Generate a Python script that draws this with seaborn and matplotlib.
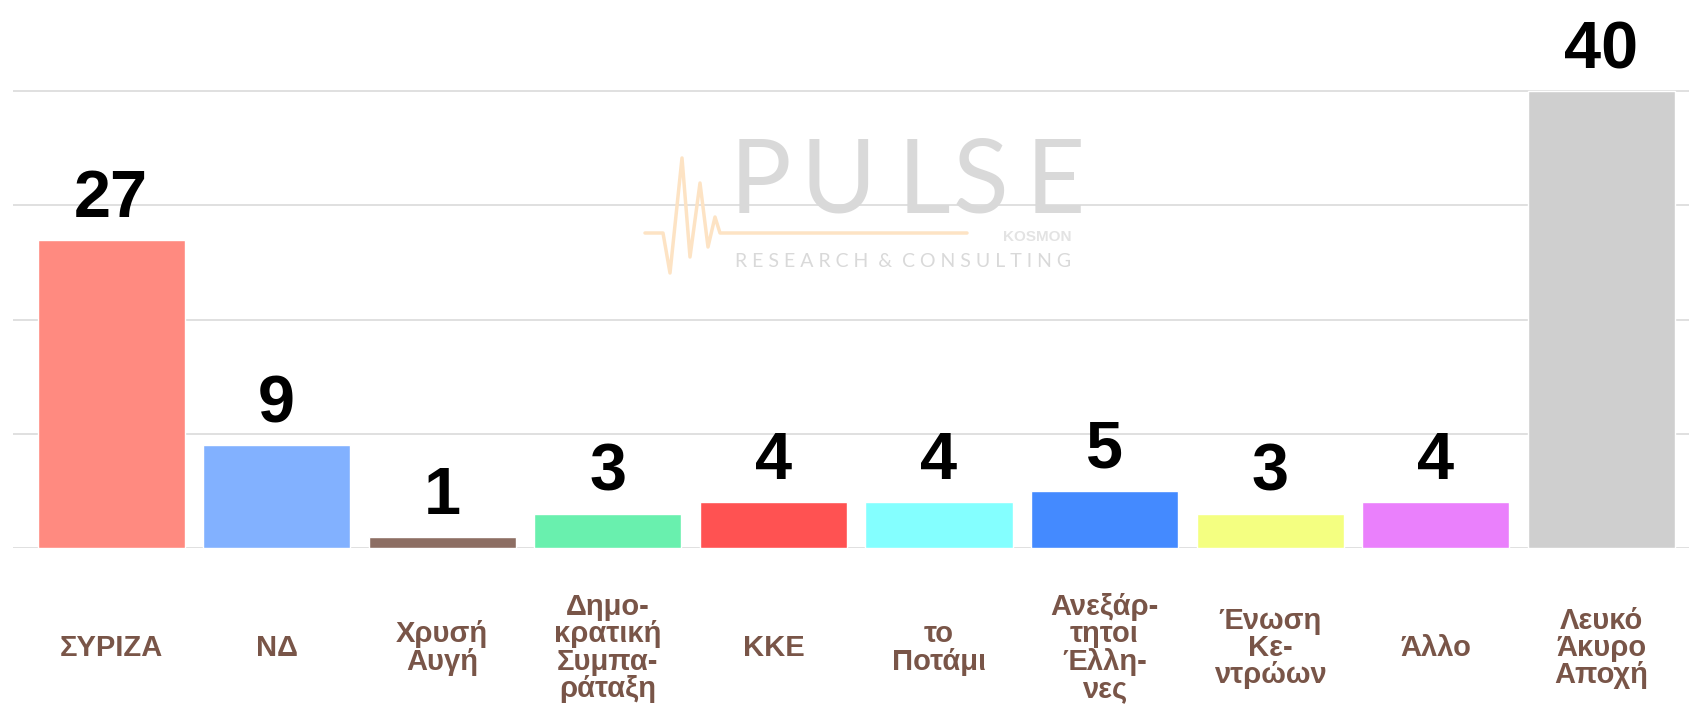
import numpy as np
import pandas as pd
import matplotlib
matplotlib.use('Agg')
import matplotlib.pyplot as plt
from matplotlib.lines import Line2D
import seaborn as sns

# ── Data ──────────────────────────────────────────────────────────────────────
parties = ['ΣΥΡΙΖΑ', 'ΝΔ', 'Χρυσή\nΑυγή', 'Δημο-\nκρατική\nΣυμπα-\nράταξη', 'ΚΚΕ',
           'το\nΠοτάμι', 'Ανεξάρ-\nτητοι\nΈλλη-\nνες', 'Ένωση\nΚε-\nντρώων', 'Άλλο',
           'Λευκό\nΆκυρο\nΑποχή']
seats = [27, 9, 1, 3, 4, 4, 5, 3, 4, 40]
colors = ['#FF8A80', '#82B1FF', '#8D6E63', '#69F0AE', '#FF5252',
          '#84FFFF', '#448AFF', '#F4FF81', '#EA80FC', '#CFCFCF']

df = pd.DataFrame({'party': parties, 'value': seats})

# ── Style ─────────────────────────────────────────────────────────────────────
sns.set_theme(style='white')
plt.rcParams['font.family'] = ['Liberation Sans', 'DejaVu Sans']

W, H = 1690, 717
fig = plt.figure(figsize=(W / 100, H / 100), dpi=100)
fig.patch.set_facecolor('white')
ax = fig.add_axes([13 / W, 1 - 548 / H, 1 - 13 / W, 502.7 / H])

sns.barplot(data=df, x='party', y='value', hue='party', palette=dict(zip(parties, colors)),
            legend=False, width=0.888, saturation=1, ax=ax, zorder=3)

ax.set_ylim(0, 44)
ax.set_xlim(-0.592, 9.535)
ax.set_yticks([0, 10, 20, 30, 40])
ax.yaxis.grid(True, color='#e0e0e0', linewidth=1.4)
ax.xaxis.grid(False)
ax.set_axisbelow(True)
ax.tick_params(axis='y', left=False, labelleft=False)
ax.tick_params(axis='x', bottom=False, pad=66)
for s in ax.spines.values():
    s.set_visible(False)
ax.set_xlabel('')
ax.set_ylabel('')

ax.set_xticks(range(len(parties)))
ax.set_xticklabels(parties, color='#795548', fontweight='bold', fontsize=21,
                   va='center', ha='center', multialignment='center', linespacing=0.97)

# value labels above bars
for i, v in enumerate(seats):
    ax.annotate(str(v), (i, v), xytext=(0, 16.5), textcoords='offset points',
                ha='center', va='baseline', fontsize=48, fontweight='bold',
                color='black', annotation_clip=False)

# ── Watermark ─────────────────────────────────────────────────────────────────
wm = '#d9d9d9'
for letter, cx in zip('PULSE', [760, 838, 924, 981, 1055]):
    fig.text(cx / W, 1 - 213 / H, letter, fontsize=74, color=wm,
             family=['Lato', 'DejaVu Sans'], ha='center', va='baseline', zorder=1)
fig.text(1072 / W, 1 - 241 / H, 'KOSMON', fontsize=11, color='#e3e3e3', fontweight='heavy',
         ha='right', va='baseline', zorder=1)
fig.text(735 / W, 1 - 267 / H, 'R E S E A R C H  &  C O N S U L T I N G', fontsize=14,
         color=wm, family=['Lato', 'DejaVu Sans'], ha='left', va='baseline', zorder=1)
px = [645, 663, 670, 682, 690, 700, 708, 715, 720, 967]
py = [233, 233, 273, 158, 257, 183, 247, 217, 233, 233]
fig.add_artist(Line2D([x / W for x in px], [1 - y / H for y in py],
                      color='#FDE3C4', linewidth=2.5, transform=fig.transFigure, zorder=1))

fig.savefig('out.png', dpi=100, facecolor='white')
